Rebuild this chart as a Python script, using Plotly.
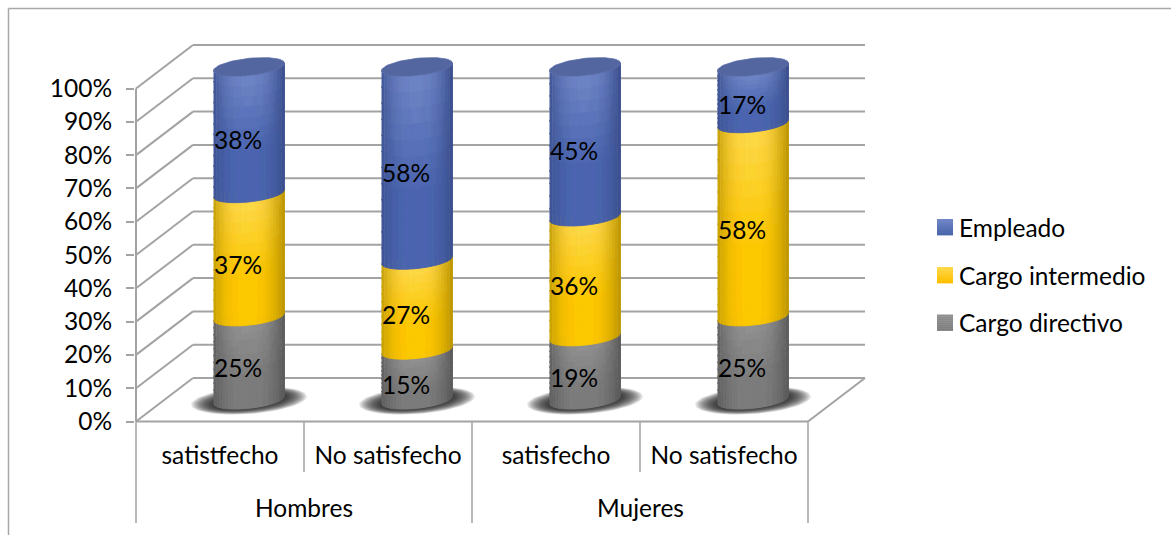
import math
import plotly.graph_objects as go

# ---- data ----
groups = ["Hombres", "Mujeres"]
categories = ["satistfecho", "No satisfecho", "satisfecho", "No satisfecho"]
cargo_directivo = [25, 15, 19, 25]
cargo_intermedio = [37, 27, 36, 58]
empleado = [38, 58, 45, 17]
y_ticks = [0, 10, 20, 30, 40, 50, 60, 70, 80, 90, 100]
series_names = ["Cargo directivo", "Cargo intermedio", "Empleado"]

# ---- geometry and style ----
W, H = 1171, 535
L, R, T, B = 135, 300, 40, 110
XS, YS = 168.0, 3.33            # px per x unit, px per y unit
Y0PX = 421.5
X0PX = 136
DX, DY = 57 / XS, 43.5 / YS     # depth of the box
CYL_X = 29 / XS                 # cylinder centre shift
CYL_Y = 6.5                     # cylinder base shift
RAD = 35.5 / XS
ARC = 8.5 / YS
TILT = 3.7 / YS                 # rise across one radius
GRID = "#a3a3a3"
FONT = "Lato"
FS = 24.5

STYLES = [
    dict(top="#909090", main="#7e7e7e", edge="#5c5c5c", solid="#7f7f7f"),
    dict(top="#ffd84a", main="#ffc800", edge="#c09800", solid="#ffc000"),
    dict(top="#6f85c6", main="#4b66b0", edge="#3b508f", solid="#4a66ac"),
]
CAP = "#53669f"


def px_x(p):
    return (p - L) / (W - L - R)


def px_y(p):
    return (H - B - p) / (H - B - T)


def rgb(h):
    return [int(h[i:i + 2], 16) for i in (1, 3, 5)]


def mix(a, b, t):
    return [a[i] + (b[i] - a[i]) * t for i in range(3)]


def arc(u, v):
    """y of the front arc of the disc at height v, for u in [-1, 1]."""
    return CYL_Y + v + u * TILT - ARC * math.sqrt(max(0, 1 - u * u))


fig = go.Figure()

# plain stacked columns underneath the shaded surface
stacks = [cargo_directivo, cargo_intermedio, empleado]
xs = [i + 0.5 + CYL_X for i in range(4)]
cum = [0, 0, 0, 0]
for name, vals, st in zip(series_names, stacks, STYLES):
    fig.add_trace(go.Bar(
        x=xs, y=vals, base=[CYL_Y + c for c in cum], width=0.36, name=name,
        marker=dict(color=st["solid"], line=dict(width=0)), showlegend=False,
    ))
    cum = [c + v for c, v in zip(cum, vals)]

# base shadows, soft-edged
for i in range(4):
    cx = xs[i]
    for k in range(18):
        s = 1 - k * 0.024
        a, b = 58 * s / XS, 13.5 * s / YS
        px, py = [], []
        for j in range(61):
            t = 2 * math.pi * j / 60
            px.append(cx + a * math.cos(t))
            py.append(CYL_Y - 0.2 + b * math.sin(t) + math.cos(t) * TILT * 1.1)
        fig.add_trace(go.Scatter(
            x=px, y=py, mode="lines", fill="toself", hoverinfo="skip",
            fillcolor="rgba(30,30,30,0.10)", line=dict(width=0), showlegend=False,
        ))

# shaded cylinder surface, cells merged per colour
NU, NV = 26, 12
cells = {}
cum = [0, 0, 0, 0]
for vals, st in zip(stacks, STYLES):
    top, main, edge = rgb(st["top"]), rgb(st["main"]), rgb(st["edge"])
    for i in range(4):
        v0, v1 = cum[i], cum[i] + vals[i]
        for a in range(NU):
            u0 = -1 + 2 * a / NU
            u1 = -1 + 2 * (a + 1) / NU
            uc = (u0 + u1) / 2
            for b in range(NV):
                f0, f1 = b / NV, (b + 1) / NV
                fc = (f0 + f1) / 2
                base = mix(top, main, min(fc / 0.6, 1))
                c = mix(base, edge, min(1, abs(uc + 0.05) ** 2.6))
                key = "#%02x%02x%02x" % tuple(max(0, min(252, round(x / 4) * 4)) for x in c)
                pts_u = [u0 + (u1 - u0) * q / 3 for q in range(4)]
                yup = lambda u, f: arc(u, v1 - (v1 - v0) * f)
                px = [xs[i] + u * RAD for u in pts_u] + [xs[i] + u * RAD for u in reversed(pts_u)] + [None]
                py = [yup(u, f0) for u in pts_u] + [yup(u, f1) for u in reversed(pts_u)] + [None]
                d = cells.setdefault(key, ([], []))
                d[0].extend(px)
                d[1].extend(py)
    cum = [c + v for c, v in zip(cum, vals)]

for color, (px, py) in cells.items():
    fig.add_trace(go.Scatter(
        x=px, y=py, mode="lines", fill="toself", fillcolor=color, hoverinfo="skip",
        line=dict(width=0.9, color=color), showlegend=False,
    ))

# top caps
for i in range(4):
    px, py = [], []
    for j in range(73):
        t = 2 * math.pi * j / 72
        u = math.cos(t)
        px.append(xs[i] + RAD * u)
        py.append(CYL_Y + 100 + u * TILT + ARC * math.sin(t))
    fig.add_trace(go.Scatter(
        x=px, y=py, mode="lines", fill="toself", fillcolor=CAP, hoverinfo="skip",
        line=dict(width=0.8, color="#5a6ca6"), showlegend=False,
    ))

# data labels
cum = [0, 0, 0, 0]
for name, vals in zip(series_names, stacks):
    fig.add_trace(go.Scatter(
        x=[x - 11 / XS for x in xs],
        y=[CYL_Y + c + v / 2 - 12.5 / YS for c, v in zip(cum, vals)],
        text=["%d%%" % v for v in vals], mode="text", name=name,
        textfont=dict(family=FONT, size=FS, color="#000000"),
        textposition="middle center", showlegend=False, hoverinfo="skip",
    ))
    cum = [c + v for c, v in zip(cum, vals)]

# box: wall grid, floor, axes
shapes = []


def line(x0, y0, x1, y1, color=GRID, w=2, xref="x", yref="y", layer="below"):
    shapes.append(dict(type="line", x0=x0, y0=y0, x1=x1, y1=y1, xref=xref, yref=yref,
                       layer=layer, line=dict(color=color, width=w)))


for v in y_ticks:
    line(0, v, DX, v + DY)
    line(DX, v + DY, 4 + DX, v + DY)
line(0, 0, 4, 0)
line(4, 0, 4 + DX, DY)
line(0, 0, 0, 100)
# category dividers
ya = px_y(421.5)
for x, bottom in [(0, 523), (1, 472), (2, 523), (3, 472), (4, 523)]:
    line(x, ya, x, px_y(bottom), w=1.5, yref="paper")
# outer frame
line(px_x(8.5), px_y(8.5), px_x(1171), px_y(8.5), color="#a8a8a8", w=1.5, xref="paper", yref="paper")
line(px_x(8.5), px_y(8.5), px_x(8.5), px_y(535), color="#a8a8a8", w=1.5, xref="paper", yref="paper")

annotations = []
for k, g in enumerate(groups):
    annotations.append(dict(x=2 * k + 1, y=px_y(507), xref="x", yref="paper", text=g, showarrow=False,
                            xanchor="center", yanchor="middle",
                            font=dict(family=FONT, size=FS, color="#000000")))

# legend, top entry first
leg_y = [322.5, 275, 227]
for name, st, yc in zip(series_names, STYLES, leg_y):
    annotations.append(dict(x=px_x(957), y=px_y(yc), xref="paper", yref="paper", text=name, showarrow=False,
                            xanchor="left", yanchor="middle",
                            font=dict(family=FONT, size=FS, color="#000000")))
    n = 8
    for j in range(n):
        c = mix(rgb(st["top"]), rgb(st["solid"]), j / (n - 1))
        shapes.append(dict(type="rect", xref="paper", yref="paper",
                           x0=px_x(937), x1=px_x(953),
                           y0=px_y(yc - 8 + 16 * j / n), y1=px_y(yc - 8 + 16 * (j + 1) / n + 0.4),
                           fillcolor="#%02x%02x%02x" % tuple(round(x) for x in c),
                           line=dict(width=0), layer="below"))

fig.update_layout(
    width=W, height=H, margin=dict(l=L, r=R, t=T, b=B, pad=0),
    paper_bgcolor="#ffffff", plot_bgcolor="#ffffff", barmode="overlay", showlegend=False,
    shapes=shapes, annotations=annotations,
    font=dict(family=FONT, size=FS, color="#000000"),
    xaxis=dict(range=[-1 / XS, (871 - X0PX) / XS], showgrid=False, zeroline=False, showline=False,
               tickmode="array", tickvals=[0.5, 1.5, 2.5, 3.5], ticktext=categories,
               ticks="", ticklabelstandoff=13, tickfont=dict(family=FONT, size=FS, color="#000000")),
    yaxis=dict(range=[(Y0PX - (H - B)) / YS, (Y0PX - T) / YS], showgrid=False, zeroline=False, showline=False,
               tickmode="array", tickvals=y_ticks, ticktext=["%d%%" % v for v in y_ticks],
               ticks="outside", ticklen=8, tickwidth=1.5, tickcolor=GRID, ticklabelstandoff=9,
               tickfont=dict(family=FONT, size=FS, color="#000000")),
)
fig.write_html("out.html", config={"displayModeBar": False},
               post_script='document.body.style.margin="0";')
